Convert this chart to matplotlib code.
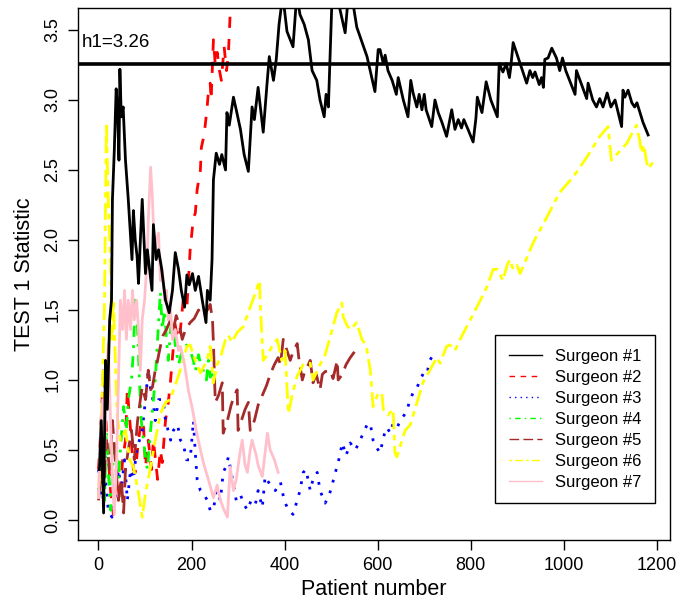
import matplotlib
matplotlib.use("Agg")
import matplotlib.pyplot as plt
from matplotlib.lines import Line2D

# Patient number / statistic pairs
s1_x = [2, 6, 11, 15, 19, 24, 28, 30, 34, 38, 41, 44, 46, 49, 53, 58, 64, 72, 75, 79, 83, 86, 90, 94,
        101, 105, 115, 118, 124, 129, 135, 144, 152, 159, 165, 172, 178, 185, 190, 195, 202, 208, 215,
        223, 231, 234, 240, 244, 247, 253, 260, 265, 273, 276, 281, 290, 296, 305, 313, 322, 330, 335,
        343, 354, 362, 367, 376, 382, 388, 396, 405, 412, 418, 426, 433, 442, 451, 459, 469, 476, 485,
        489, 494, 498, 502, 512, 530, 537, 544, 555, 577, 594, 601, 605, 612, 616, 622, 631, 640, 644,
        655, 665, 671, 676, 684, 689, 695, 700, 704, 716, 723, 730, 738, 748, 759, 766, 773, 780, 785,
        794, 805, 811, 814, 824, 833, 843, 857, 861, 869, 876, 883, 886, 891, 898, 920, 927, 933, 938,
        947, 952, 956, 959, 966, 974, 984, 991, 997, 1004, 1024, 1027, 1037, 1049, 1052, 1062, 1070,
        1077, 1084, 1093, 1101, 1110, 1124, 1127, 1131, 1138, 1146, 1152, 1157, 1170, 1181]
s1_y = [0.36, 0.71, 0.05, 1.14, 0.79, 1.43, 1.57, 2.29, 2.64, 3.08, 2.93, 2.57, 3.22, 2.88, 2.95, 2.57,
        2.29, 1.86, 2.21, 2.0, 1.88, 1.69, 2.0, 2.29, 1.76, 1.93, 1.64, 2.11, 1.86, 1.93, 1.81, 1.57,
        1.48, 1.64, 1.91, 1.79, 1.64, 1.52, 1.75, 1.68, 1.76, 1.64, 1.74, 1.57, 1.41, 1.64, 1.57, 1.86,
        2.43, 2.62, 2.54, 2.61, 2.5, 2.91, 2.82, 3.02, 2.93, 2.79, 2.61, 2.49, 2.95, 2.86, 3.09, 2.77,
        3.11, 3.31, 3.14, 3.29, 3.54, 3.75, 3.49, 3.43, 3.38, 3.75, 3.61, 3.54, 3.43, 3.21, 3.14, 3.0,
        2.88, 3.04, 2.95, 3.36, 3.75, 3.75, 3.48, 3.75, 3.75, 3.52, 3.31, 3.06, 3.36, 3.36, 3.26, 3.32,
        3.21, 3.14, 3.04, 3.16, 3.0, 2.88, 3.14, 3.05, 2.95, 3.04, 2.93, 3.04, 2.93, 2.81, 3.0, 2.91,
        2.84, 2.74, 2.93, 2.79, 2.86, 2.8, 2.86, 2.79, 2.7, 2.87, 3.02, 2.91, 3.13, 3.0, 2.88, 3.26,
        3.2, 3.26, 3.16, 3.24, 3.41, 3.34, 3.12, 3.21, 3.16, 3.2, 3.11, 3.16, 3.09, 3.29, 3.3, 3.37,
        3.3, 3.21, 3.3, 3.21, 3.04, 3.21, 3.12, 3.01, 3.12, 3.0, 2.95, 3.01, 2.95, 3.05, 2.95, 3.0,
        2.81, 3.07, 3.02, 3.07, 2.98, 2.95, 2.98, 2.84, 2.75]

s2_x = [0, 4, 11, 17, 26, 32, 39, 45, 52, 58, 62, 69, 75, 79, 86, 92, 97, 101, 107, 114, 118, 127,
        133, 137, 144, 150, 155, 161, 163, 170, 176, 182, 190, 197, 204, 208, 212, 219, 221, 227, 233,
        236, 240, 242, 247, 251, 255, 260, 264, 270, 275, 279, 283]
s2_y = [0.36, 0.59, 1.09, 0.64, 0.21, 0.04, 0.36, 0.14, 0.43, 0.57, 0.93, 0.64, 0.36, 0.34, 0.57,
        0.71, 0.66, 0.38, 0.57, 0.36, 0.57, 0.29, 0.5, 0.41, 0.71, 0.84, 1.0, 1.24, 1.43, 1.29, 1.36,
        1.57, 1.52, 1.93, 2.16, 2.19, 2.36, 2.5, 2.66, 2.75, 2.93, 3.05, 3.12, 3.0, 3.43, 3.25, 3.34,
        3.21, 3.14, 3.38, 3.21, 3.32, 3.62]

s3_x = [0, 9, 15, 21, 29, 36, 43, 49, 56, 62, 69, 75, 82, 88, 94, 101, 107, 112, 116, 122, 129, 139,
        144, 155, 161, 170, 176, 182, 189, 197, 204, 208, 212, 219, 225, 234, 240, 247, 253, 262, 268,
        275, 279, 288, 296, 305, 313, 320, 328, 337, 343, 352, 358, 369, 380, 391, 399, 408, 418, 427,
        433, 440, 446, 455, 461, 470, 476, 487, 496, 502, 509, 515, 524, 532, 541, 552, 562, 569, 577,
        584, 590, 599, 605, 614, 620, 627, 633, 642, 648, 657, 663, 670, 676, 685, 691, 700, 706, 712,
        719, 723]
s3_y = [0.36, 0.14, 0.29, 0.07, 0.02, 0.16, 0.36, 0.21, 0.43, 0.14, 0.36, 0.29, 0.5, 0.57, 0.64,
        0.86, 1.07, 0.93, 0.88, 0.71, 0.86, 0.86, 0.71, 0.57, 0.64, 0.68, 0.57, 0.55, 0.43, 0.43, 0.71,
        0.48, 0.29, 0.21, 0.19, 0.14, 0.07, 0.07, 0.21, 0.14, 0.34, 0.39, 0.45, 0.29, 0.14, 0.18, 0.11,
        0.07, 0.14, 0.11, 0.21, 0.09, 0.31, 0.25, 0.21, 0.27, 0.14, 0.07, 0.04, 0.14, 0.21, 0.34, 0.36,
        0.21, 0.29, 0.34, 0.21, 0.12, 0.18, 0.25, 0.34, 0.41, 0.55, 0.46, 0.55, 0.5, 0.57, 0.62, 0.68,
        0.69, 0.57, 0.51, 0.48, 0.61, 0.66, 0.62, 0.69, 0.66, 0.71, 0.75, 0.79, 0.86, 0.91, 0.95, 1.0,
        1.06, 1.05, 1.14, 1.18, 1.2]

s4_x = [0, 4, 9, 13, 17, 21, 26, 30, 36, 43, 47, 54, 60, 64, 71, 75, 79, 84, 88, 92, 99, 105, 112,
        118, 122, 127, 133, 137, 142, 146, 150, 155, 159, 165, 172, 180, 189, 197, 204, 208, 215, 221,
        225, 232, 236, 240, 247]
s4_y = [0.21, 0.36, 0.57, 0.14, 0.64, 0.36, 0.07, 0.36, 0.57, 0.29, 0.5, 0.81, 0.64, 0.86, 1.0, 1.21,
        1.57, 1.36, 1.0, 0.71, 0.5, 0.36, 0.64, 0.86, 1.0, 1.29, 1.63, 1.36, 1.5, 1.29, 1.14, 1.36,
        1.43, 1.25, 1.11, 1.21, 1.25, 1.21, 1.14, 1.06, 1.18, 1.09, 1.07, 1.0, 1.14, 1.02, 1.05]

s5_x = [0, 6, 11, 17, 24, 30, 36, 43, 49, 54, 58, 64, 71, 77, 84, 90, 94, 101, 107, 112, 116, 122,
        127, 133, 139, 146, 155, 161, 167, 174, 180, 187, 197, 206, 215, 223, 230, 236, 240, 245, 247,
        251, 258, 266, 268, 277, 285, 292, 298, 300, 309, 315, 322, 326, 335, 343, 352, 361, 369, 378,
        386, 391, 397, 403, 412, 418, 427, 431, 438, 444, 451, 455, 461, 468, 476, 481, 487, 498, 504,
        513, 515, 524, 532, 541, 552]
s5_y = [0.14, 0.36, 0.24, 0.57, 0.36, 0.71, 0.43, 0.14, 0.29, 0.05, 0.36, 0.5, 0.64, 0.43, 0.71, 0.86,
        0.95, 0.86, 1.07, 0.93, 0.95, 1.07, 1.14, 1.24, 1.32, 1.36, 1.43, 1.36, 1.46, 1.39, 1.29, 1.36,
        1.41, 1.44, 1.5, 1.46, 1.48, 1.51, 1.54, 1.43, 1.26, 0.84, 0.89, 0.98, 0.62, 0.71, 0.82, 0.89,
        0.93, 0.64, 0.73, 0.79, 0.84, 0.64, 0.71, 0.82, 0.89, 0.96, 1.04, 1.11, 1.16, 1.11, 1.29, 1.23,
        1.14, 1.2, 1.26, 1.14, 1.0, 1.07, 1.11, 1.14, 0.98, 1.04, 0.93, 1.04, 1.06, 1.07, 1.01, 1.14,
        1.0, 1.04, 1.11, 1.16, 1.21]

s6_x = [0, 4, 9, 13, 17, 21, 26, 29, 32, 40, 47, 58, 67, 75, 86, 94, 101, 112, 122, 133, 144, 155,
        161, 169, 182, 190, 197, 208, 219, 233, 240, 247, 255, 262, 273, 279, 287, 298, 311, 326, 337,
        346, 348, 354, 363, 373, 384, 394, 401, 408, 416, 426, 440, 455, 461, 476, 487, 498, 512, 523,
        526, 534, 541, 555, 566, 575, 584, 590, 599, 609, 612, 622, 633, 637, 641, 659, 670, 680, 697,
        712, 727, 734, 748, 755, 766, 777, 791, 813, 834, 848, 858, 869, 878, 884, 891, 899, 906, 934,
        963, 991, 1020, 1049, 1077, 1095, 1102, 1116, 1135, 1156, 1163, 1167, 1172, 1177, 1181, 1195]
s6_y = [0.16, 0.5, 1.0, 1.57, 2.84, 2.29, 1.86, 1.29, 1.57, 0.76, 0.57, 0.64, 0.43, 0.38, 0.19, 0.02,
        0.19, 0.38, 0.57, 0.76, 0.84, 0.86, 0.93, 1.0, 1.14, 1.24, 1.25, 1.14, 1.05, 1.14, 1.24, 0.98,
        1.11, 1.16, 1.29, 1.32, 1.27, 1.34, 1.38, 1.52, 1.62, 1.71, 1.52, 1.14, 1.18, 1.24, 1.29, 1.14,
        1.21, 0.76, 0.89, 1.02, 1.11, 1.12, 1.0, 1.11, 1.18, 1.31, 1.48, 1.55, 1.45, 1.39, 1.36, 1.41,
        1.29, 1.25, 1.07, 0.81, 0.89, 0.91, 0.79, 0.75, 0.79, 0.48, 0.45, 0.64, 0.68, 0.79, 0.98, 1.07,
        1.16, 1.12, 1.24, 1.25, 1.21, 1.29, 1.38, 1.52, 1.66, 1.79, 1.79, 1.71, 1.82, 1.86, 1.79, 1.82,
        1.76, 1.98, 2.16, 2.34, 2.45, 2.59, 2.74, 2.81, 2.57, 2.62, 2.69, 2.82, 2.71, 2.62, 2.68, 2.57,
        2.51, 2.57]

s7_x = [0, 4, 9, 13, 17, 21, 26, 30, 34, 39, 43, 47, 52, 56, 60, 64, 69, 73, 77, 82, 86, 90, 94, 99,
        105, 107, 112, 116, 120, 124, 129, 133, 137, 142, 146, 150, 155, 159, 165, 172, 176, 185, 193,
        202, 210, 219, 227, 236, 247, 255, 262, 270, 277, 283, 290, 296, 305, 309, 315, 320, 326, 330,
        339, 343, 352, 363, 369, 378, 386]
s7_y = [0.16, 0.57, 0.86, 0.43, 1.0, 1.26, 0.71, 0.29, 0.04, 0.43, 1.0, 1.57, 1.36, 1.64, 1.29, 1.57,
        1.36, 1.64, 1.43, 1.57, 1.36, 1.07, 1.43, 1.57, 1.88, 2.14, 2.52, 2.29, 1.93, 2.0, 2.05, 1.71,
        1.79, 1.57, 1.64, 1.43, 1.5, 1.29, 1.36, 1.21, 1.24, 1.11, 0.93, 0.79, 0.64, 0.5, 0.39, 0.29,
        0.16, 0.25, 0.14, 0.07, 0.02, 0.38, 0.21, 0.29, 0.5, 0.57, 0.39, 0.34, 0.5, 0.57, 0.46, 0.39,
        0.31, 0.62, 0.5, 0.43, 0.34]

labels = ["Surgeon #1", "Surgeon #2", "Surgeon #3", "Surgeon #4",
          "Surgeon #5", "Surgeon #6", "Surgeon #7"]
colors = ["black", "red", "blue", "#00FF00", "#A52A2A", "#FFFF00", "#FFC0CB"]
styles = ["-", (0, (4, 4)), (0, (1, 3)), (0, (1, 3, 4, 3)), (0, (7, 3)), (0, (2, 2, 6, 2)), "-"]
h1 = 3.26

plt.rcParams["font.family"] = ["Liberation Sans", "DejaVu Sans"]

fig = plt.figure(figsize=(6.79, 6.0), dpi=100)
ax = fig.add_axes([78 / 679, 60 / 600, 592 / 679, 532 / 600])

series = [(s1_x, s1_y), (s2_x, s2_y), (s3_x, s3_y), (s4_x, s4_y),
          (s5_x, s5_y), (s6_x, s6_y), (s7_x, s7_y)]
# draw surgeon 1 last so it sits on top like in the original
order = [1, 2, 3, 4, 5, 6, 0]
for i in order:
    xs, ys = series[i]
    ax.plot(xs, ys, color=colors[i], linestyle=styles[i], linewidth=2)

ax.axhline(h1, color="black", linewidth=2.6)
ax.text(-36, 3.41, "h1=3.26", fontsize=13.5, ha="left", va="center")

ax.set_xlim(-44, 1228)
ax.set_ylim(-0.143, 3.657)
ax.set_xticks([0, 200, 400, 600, 800, 1000, 1200])
ax.set_yticks([0, 0.5, 1, 1.5, 2, 2.5, 3, 3.5])
ax.set_yticklabels(["0.0", "0.5", "1.0", "1.5", "2.0", "2.5", "3.0", "3.5"],
                   rotation=90, va="center")
ax.tick_params(direction="out", length=7, width=1, labelsize=13, pad=5)
for sp in ax.spines.values():
    sp.set_linewidth(1)

ax.set_xlabel("Patient number", fontsize=15.5, labelpad=3.5)
ax.set_ylabel("TEST 1 Statistic", fontsize=15.5, labelpad=7)

handles = [Line2D([], [], color=colors[i], linestyle=styles[i], linewidth=1) for i in range(7)]
leg = ax.legend(handles, labels, loc="lower right", bbox_to_anchor=(0.975, 0.0695),
                borderaxespad=0, fontsize=12, handlelength=2.0, handletextpad=0.8,
                labelspacing=0.36, borderpad=0.8, fancybox=False, framealpha=1,
                edgecolor="black")
leg.get_frame().set_linewidth(1)

fig.savefig("out.png", dpi=100)
